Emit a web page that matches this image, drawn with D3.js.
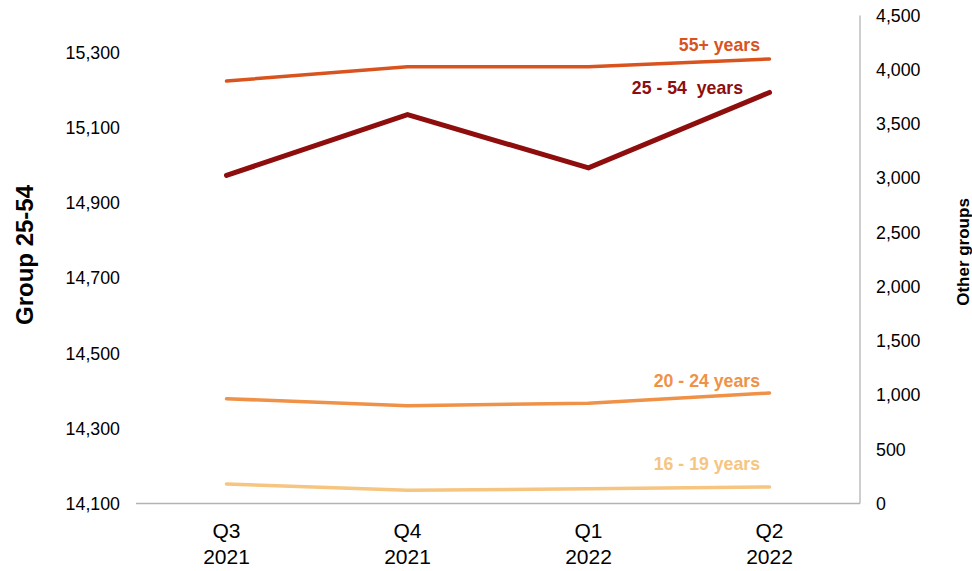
<!DOCTYPE html>
<html><head><meta charset="utf-8">
<script src="https://cdn.jsdelivr.net/npm/d3@7"></script>
<style>body{margin:0;background:#fff;} text{font-family:"Liberation Sans",Arial,sans-serif;}</style>
</head><body><svg id="c" width="972" height="571"></svg>
<script>
const categories = [["Q3","2021"],["Q4","2021"],["Q1","2022"],["Q2","2022"]];
const leftTicks = [14100,14300,14500,14700,14900,15100,15300];
const rightTicks = [0,500,1000,1500,2000,2500,3000,3500,4000,4500];
const group2554 = [14974, 15136, 14994, 15195];
const group55 = [3896, 4028, 4028, 4099];
const group2024 = [966, 902, 924, 1019];
const group1619 = [180, 122, 136, 152];
const seriesNames = ["55+ years","25 - 54  years","20 - 24 years","16 - 19 years"];
const colors = ["#D9531E","#8E0E0E","#EF9147","#F6C57F"];

const svg = d3.select("#c");
const L = 136, R = 860, T = 15.5, B = 503.5;
const x = d3.scaleBand().domain(d3.range(categories.length)).range([L, R]);
const yL = d3.scaleLinear().domain([14100, 15400]).range([B, T]);
const yR = d3.scaleLinear().domain([0, 4500]).range([B, T]);
const cx = i => x(i) + x.bandwidth()/2;

// axes lines
svg.append("line").attr("x1",L).attr("x2",R).attr("y1",B).attr("y2",B).attr("stroke","#b3b3b3").attr("stroke-width",1.3);
svg.append("line").attr("x1",R).attr("x2",R).attr("y1",T).attr("y2",B).attr("stroke","#b3b3b3").attr("stroke-width",1.3);

// left tick labels
svg.append("g").selectAll("text").data(leftTicks).join("text")
  .attr("x",120).attr("y",d=>yL(d)).attr("dy","0.35em").attr("text-anchor","end")
  .attr("font-size",17.8).attr("fill","#000").text(d=>d3.format(",")(d));
// right tick labels
svg.append("g").selectAll("text").data(rightTicks).join("text")
  .attr("x",876).attr("y",d=>yR(d)).attr("dy","0.35em").attr("text-anchor","start")
  .attr("font-size",17.8).attr("fill","#000").text(d=>d3.format(",")(d));
// x labels
const xl = svg.append("g").selectAll("text").data(categories).join("text")
  .attr("text-anchor","middle").attr("font-size",21).attr("fill","#000");
xl.append("tspan").attr("x",(d,i)=>cx(i)).attr("y",538).text(d=>d[0]);
xl.append("tspan").attr("x",(d,i)=>cx(i)).attr("y",564).text(d=>d[1]);

// axis titles
svg.append("text").attr("transform","translate(33,255) rotate(-90)").attr("text-anchor","middle")
  .attr("font-size",24).attr("font-weight","bold").text("Group 25-54");
svg.append("text").attr("transform","translate(969,252) rotate(-90)").attr("text-anchor","middle")
  .attr("font-size",17).attr("font-weight","bold").text("Other groups");

const lineL = d3.line().x((d,i)=>cx(i)).y(d=>yL(d));
const lineR = d3.line().x((d,i)=>cx(i)).y(d=>yR(d));
const series = [
  {v:group1619, s:lineR, c:colors[3], w:3.5},
  {v:group2024, s:lineR, c:colors[2], w:3.5},
  {v:group55, s:lineR, c:colors[0], w:3.5},
  {v:group2554, s:lineL, c:colors[1], w:5},
];
series.forEach(d=>{
  svg.append("path").attr("d",d.s(d.v)).attr("fill","none").attr("stroke",d.c)
    .attr("stroke-width",d.w).attr("stroke-linecap","round").attr("stroke-linejoin","miter");
});

// series labels
const labelData = [
  {t:seriesNames[0], c:colors[0], x:760, y:yR(group55[3])-8},
  {t:seriesNames[1], c:colors[1], x:743, y:yL(group2554[3])+1.5},
  {t:seriesNames[2], c:colors[2], x:760, y:yR(group2024[3])-6},
  {t:seriesNames[3], c:colors[3], x:760, y:yR(group1619[3])-17},
];
svg.append("g").selectAll("text").data(labelData).join("text")
  .attr("x",d=>d.x).attr("y",d=>d.y).attr("text-anchor","end").attr("font-size",17.7)
  .attr("font-weight","bold").attr("fill",d=>d.c).style("white-space","pre").text(d=>d.t);
</script></body></html>
